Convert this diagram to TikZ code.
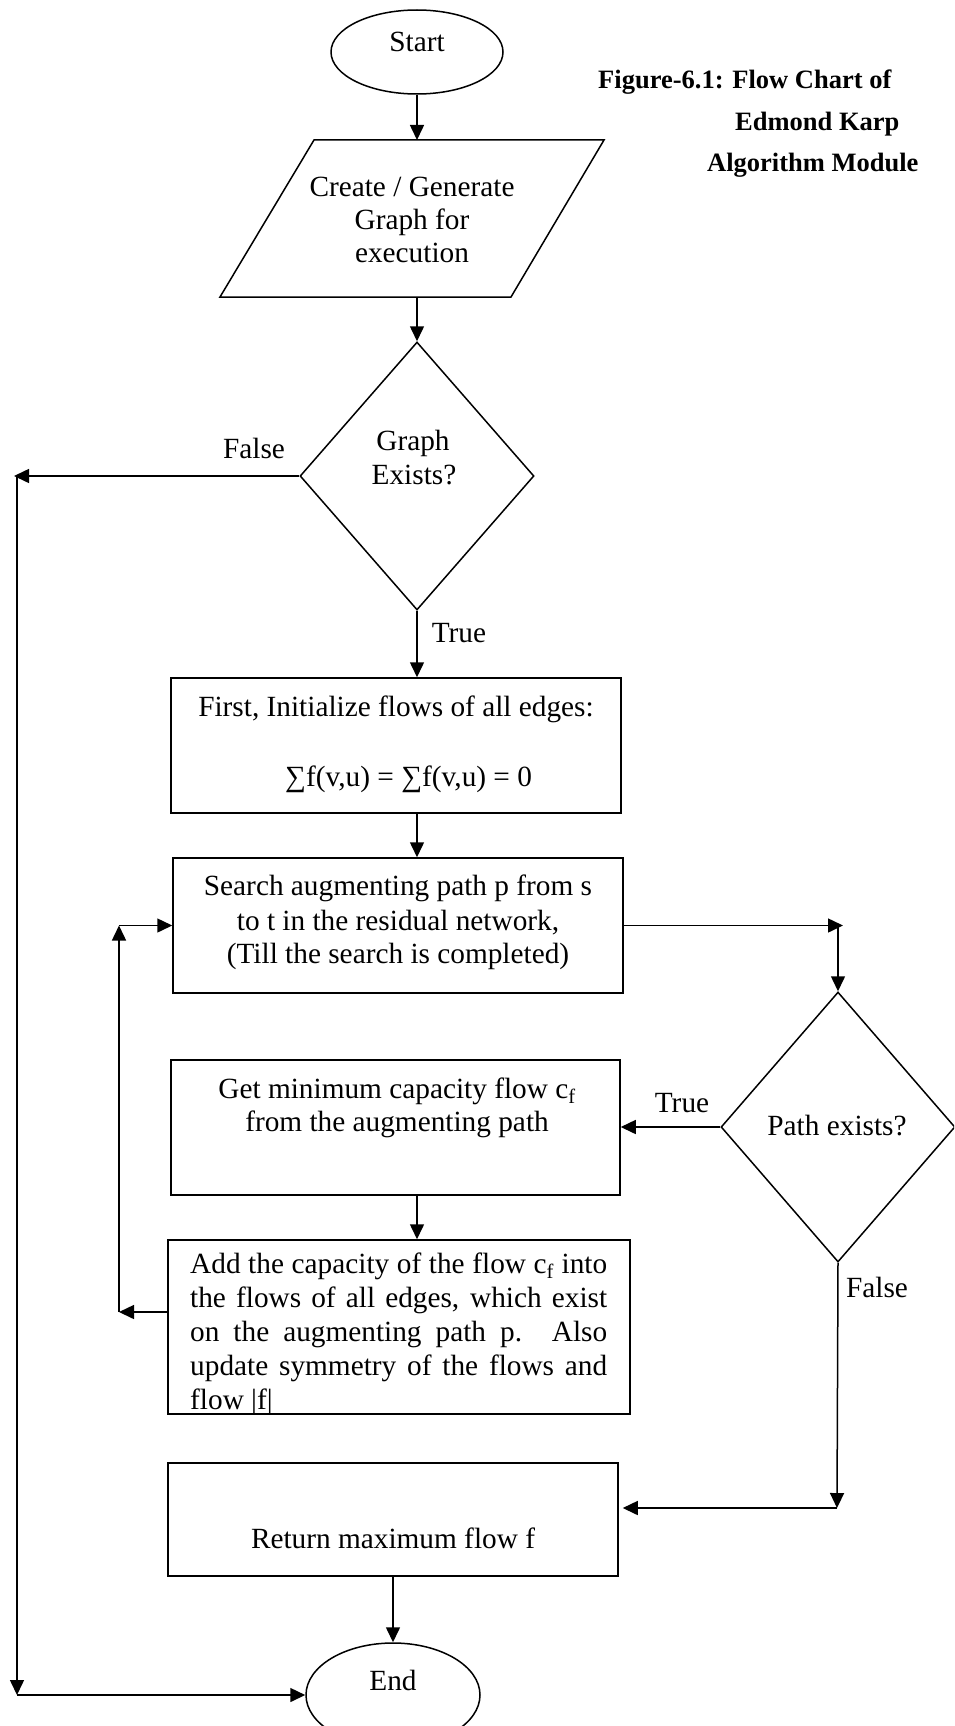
\documentclass[tikz,border=0pt]{standalone}
\usepackage{fontspec}
\setmainfont{Liberation Serif}
\usetikzlibrary{arrows.meta,shapes.geometric}
\begin{document}
\begin{tikzpicture}[x=1pt,y=-1pt,
  outline/.style={draw, line width=1.5pt, inner sep=0pt},
  box/.style={outline, rectangle},
  decision/.style={outline, diamond},
  terminal/.style={outline, ellipse},
  arr/.style={line width=1.5pt, -{Triangle[length=15pt,width=14pt]}},
  txt/.style={inner sep=0pt, font=\fontsize{29.3pt}{34pt}\selectfont, anchor=base},
  title/.style={inner sep=0pt, font=\bfseries\fontsize{26.5pt}{30pt}\selectfont, anchor=base west}]
\useasboundingbox (0,0) rectangle (954,1726);
\clip (0,0) rectangle (954,1726);

% heading
\node[title] (ttl1) at (598,89)  {Figure-6.1: Flow Chart of};
\node[title] (ttl2) at (735,131) {Edmond Karp};
\node[title] (ttl3) at (707,171) {Algorithm Module};

% start
\node[terminal, minimum width=172pt, minimum height=84pt] (start) at (417,52) {};
\node[txt] (tstart) at (417,52) {Start};

% input parallelogram
\draw[line width=1.5pt] (314,140) -- (604,140) -- (511,297) -- (220,297) -- cycle;
\coordinate (genin) at (417,140);
\coordinate (genout) at (417,297);
\node[txt] (tg1) at (412,196) {Create / Generate};
\node[txt] (tg2) at (412,229) {Graph for};
\node[txt] (tg3) at (412,262) {execution};

% graph exists?
\node[decision, minimum width=234pt, minimum height=268pt] (gx) at (417,476) {};
\node[txt] (tgx1) at (413,450) {Graph};
\node[txt] (tgx2) at (414,484) {Exists?};

% initialise
\node[box, minimum width=450pt, minimum height=135pt] (init) at (396,745.5) {};
\node[txt] (ti1) at (396,716) {First, Initialize flows of all edges:};
\node[txt, anchor=base west] (ti2) at (285,786) {∑f(v,u) = ∑f(v,u) = 0};

% search
\node[box, minimum width=450pt, minimum height=135pt] (search) at (398,925.5) {};
\node[txt] (ts1) at (398,895) {Search augmenting path p from s};
\node[txt] (ts2) at (398,930) {to t in the residual network,};
\node[txt] (ts3) at (398,963) {(Till the search is completed)};

% path exists?
\node[decision, minimum width=234pt, minimum height=270pt] (path) at (838,1127) {};
\node[txt] (tp) at (837,1135) {Path exists?};

% minimum capacity
\node[box, minimum width=449pt, minimum height=135pt] (getmin) at (395.5,1127.5) {};
\node[txt] (tm1) at (397,1098) {Get minimum capacity flow c\textsubscript{f}};
\node[txt] (tm2) at (397,1131) {from the augmenting path};

% augment
\node[box, minimum width=462pt, minimum height=174pt] (add) at (399,1327) {};
\begin{scope}
\clip (168,1240) rectangle (630,1412);
\node[txt, anchor=base west] (ta1) at (190,1273) {\makebox[417pt][s]{Add the capacity of the flow c\textsubscript{f} into}};
\node[txt, anchor=base west] (ta2) at (190,1307) {\makebox[417pt][s]{the flows of all edges, which exist}};
\node[txt, anchor=base west] (ta3) at (190,1341) {\makebox[417pt][s]{on the augmenting path p. Also}};
\node[txt, anchor=base west] (ta4) at (190,1375) {\makebox[417pt][s]{update symmetry of the flows and}};
\node[txt, anchor=base west] (ta5) at (190,1409) {flow |f|};
\end{scope}

% return
\node[box, minimum width=450pt, minimum height=113pt] (ret) at (393,1519.5) {};
\node[txt] (tr) at (393,1548) {Return maximum flow f};

% end
\node[terminal, minimum width=174pt, minimum height=104pt] (end) at (393,1695) {};
\node[txt] (tend) at (393,1690) {End};

% connectors
\draw[arr] (start.south) -- (genin);
\draw[arr] (genout) -- (gx.north);
\draw[arr] (gx.south) -- (gx.south |- init.north);
\node[txt] (ltrue1) at (459,642) {True};
\draw[arr] (gx.south |- init.south) -- (gx.south |- search.north);

\coordinate (sjog) at (843,925.5);
\draw[arr] (search.east) -- (sjog);
\draw[arr] (path.north |- sjog) -- (path.north);

\draw[arr] (path.west) -- (path.west -| getmin.east);
\node[txt] (ltrue2) at (682,1112) {True};
\draw[arr] (gx.south |- getmin.south) -- (gx.south |- add.north);

\coordinate (loopb) at (119,1312);
\coordinate (loopt) at (119,925.5);
\draw[arr] (add.west |- loopb) -- (loopb);
\draw[arr] (loopb) -- (loopt);
\draw[arr] (loopt) -- (search.west);

\coordinate (pfalse) at (837,1508);
\draw[arr] (path.south) -- (pfalse);
\node[txt] (lfalse2) at (877,1297) {False};
\draw[arr, shorten >=4pt] (pfalse) -- (ret.east |- pfalse);

\draw[arr] (ret.south) -- (end.north);

\coordinate (gfalse) at (14,476);
\coordinate (gdown) at (17,476);
\coordinate (gbottom) at (17,1695);
\draw[arr] (gx.west) -- (gfalse);
\node[txt] (lfalse1) at (254,458) {False};
\draw[arr] (gdown) -- (gbottom);
\draw[arr] (gbottom) -- (end.west);
\end{tikzpicture}
\end{document}
